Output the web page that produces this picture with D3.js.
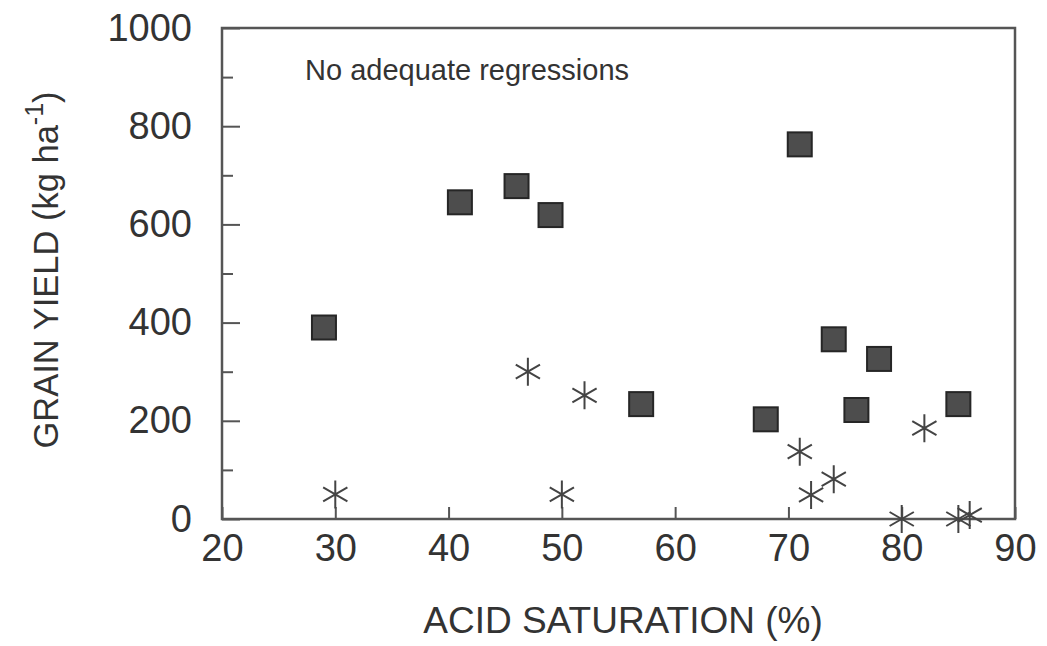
<!DOCTYPE html>
<html>
<head>
<meta charset="utf-8">
<script src="https://cdn.jsdelivr.net/npm/d3@7"></script>
<style>
    body { margin: 0; background: #fff; }
    text { font-family: "Liberation Sans", Arial, sans-serif; fill: #333; }
</style>
</head>
<body>
<svg id="chart" width="1047" height="646"></svg>
<script>
// values
var xTicks = [20, 30, 40, 50, 60, 70, 80, 90],
    yTicks = [0, 200, 400, 600, 800, 1000],
    yMinor = [100, 300, 500, 700, 900];

// filled squares
var squareX = [29, 41, 46, 49, 57, 68, 71, 74, 76, 78, 85],
    squareY = [390, 645, 678, 619, 234, 203, 763, 366, 222, 326, 234];

// asterisks
var starX = [30, 47, 50, 52, 71, 72, 74, 80, 82, 85, 86],
    starY = [50, 300, 50, 252, 137, 49, 81, 0, 185, 0, 8];

var note = 'No adequate regressions';

var plotL = 222, plotR = 1015, plotT = 28, plotB = 519;

var svg = d3.select('#chart');

var x = d3.scaleLinear().domain([20, 90]).range([plotL, plotR]),
    y = d3.scaleLinear().domain([0, 1000]).range([plotB, plotT]);

// x axis, ticks pointing inward
var gx = svg.append('g')
    .attr('transform', 'translate(0,' + plotB + ')')
    .call(d3.axisBottom(x).tickValues(xTicks).tickSize(-12).tickPadding(15).tickFormat(d3.format('d')));

// y axis major + minor
var gy = svg.append('g')
    .attr('transform', 'translate(' + plotL + ',0)')
    .call(d3.axisLeft(y).tickValues(yTicks).tickSize(-18).tickPadding(30).tickFormat(d3.format('d')));

var gym = svg.append('g')
    .attr('transform', 'translate(' + plotL + ',0)')
    .call(d3.axisLeft(y).tickValues(yMinor).tickSize(-11).tickFormat(''));

[gx, gy, gym].forEach(function(g) {
    g.select('.domain').remove();
    g.selectAll('.tick line').attr('stroke', '#555').attr('stroke-width', 2);
    g.selectAll('.tick text')
        .attr('font-size', 38)
        .attr('font-family', '"Liberation Sans", Arial, sans-serif')
        .attr('fill', '#333');
});

// frame
svg.append('rect')
    .attr('x', plotL).attr('y', plotT)
    .attr('width', plotR - plotL).attr('height', plotB - plotT)
    .attr('fill', 'none')
    .attr('stroke', '#555')
    .attr('stroke-width', 2.5);

// asterisk shape
var starPath = function(r) {
    var p = d3.path();
    [90, 30, 150].forEach(function(a) {
        var rad = a * Math.PI / 180,
            dx = Math.cos(rad) * r,
            dy = Math.sin(rad) * r;
        p.moveTo(-dx, -dy);
        p.lineTo(dx, dy);
    });
    return p.toString();
};

var stars = starX.map(function(v, i) { return {x: v, y: starY[i]}; });
svg.selectAll('path.star')
    .data(stars)
    .enter().append('path')
    .attr('class', 'star')
    .attr('transform', function(d) { return 'translate(' + x(d.x) + ',' + y(d.y) + ')'; })
    .attr('d', starPath(14))
    .attr('stroke', '#444')
    .attr('stroke-width', 2)
    .attr('fill', 'none');

var squares = squareX.map(function(v, i) { return {x: v, y: squareY[i]}; });
var side = 24;
svg.selectAll('rect.sq')
    .data(squares)
    .enter().append('rect')
    .attr('class', 'sq')
    .attr('x', function(d) { return x(d.x) - side / 2; })
    .attr('y', function(d) { return y(d.y) - side / 2; })
    .attr('width', side).attr('height', side)
    .attr('fill', '#4d4d4d')
    .attr('stroke', '#262626')
    .attr('stroke-width', 2);

// note
svg.append('text')
    .attr('x', 305).attr('y', 80)
    .attr('font-size', 29)
    .text(note);

// x label
svg.append('text')
    .attr('x', 623).attr('y', 633)
    .attr('text-anchor', 'middle')
    .attr('font-size', 37)
    .text('ACID SATURATION (%)');

// y label
var yl = svg.append('text')
    .attr('transform', 'translate(58,270) rotate(-90)')
    .attr('text-anchor', 'middle')
    .attr('font-size', 34.5);
yl.append('tspan').text('GRAIN YIELD (kg ha');
yl.append('tspan').attr('dy', -15).attr('font-size', 25).text('-1');
yl.append('tspan').attr('dy', 15).text(')');
</script>
</body>
</html>
